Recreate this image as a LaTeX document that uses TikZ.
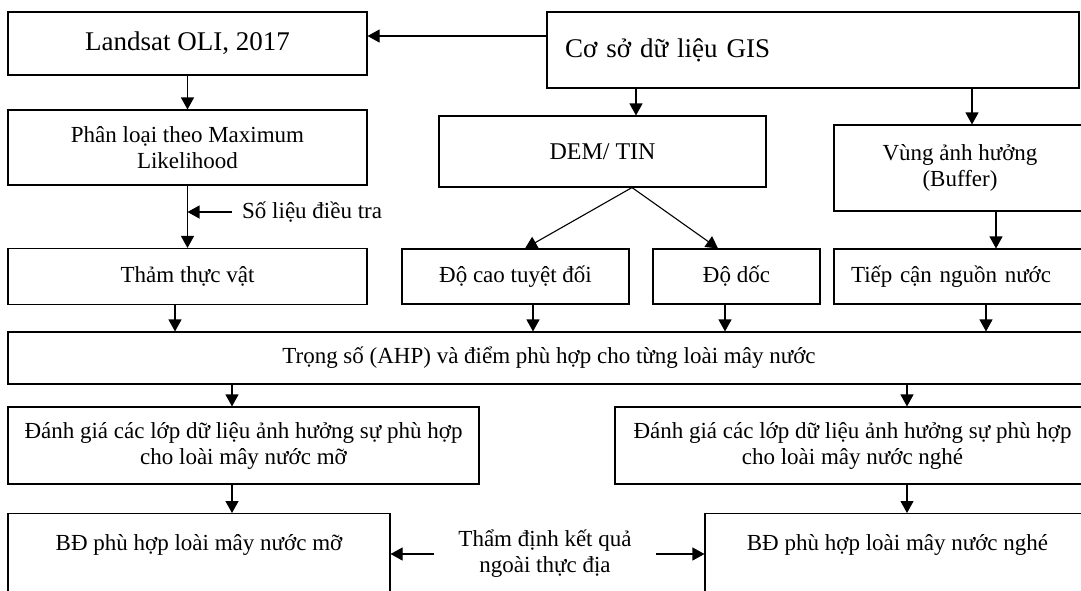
\documentclass[tikz,border=0pt]{standalone}
\usepackage{fontspec}
\setmainfont{Liberation Serif}
\usetikzlibrary{arrows.meta}

\providecommand{\flowLineWidth}{1.1pt}
\newcommand{\flowfont}{\fontsize{23}{26}\selectfont}
\newcommand{\flowbigfont}{\fontsize{27}{30}\selectfont}
\tikzset{
  flowbox/.style={draw, line width=\flowLineWidth, inner sep=0pt, align=center, font=\flowfont},
  flowarrow/.style={line width=\flowLineWidth, -{Triangle[length=12pt,width=13pt]}},
}

\begin{document}
\begin{tikzpicture}[x=1pt, y=-1pt]
% Page frame, boxes on the right run past the edge
\useasboundingbox (0,0) rectangle (1081,590);
\clip (0,0) rectangle (1081,590);
% Top row
\node[flowbox, minimum width=359pt, minimum height=63pt, font=\flowbigfont] (landsat) at (187.5,43.5) {Landsat OLI, 2017};
\node[flowbox, minimum height=76pt, text width=496pt, inner xsep=18pt, align=left, font=\flowbigfont] (gis) at (813,50) {Cơ sở dữ liệu GIS};
% Second row
\node[flowbox, minimum width=359pt, minimum height=75pt] (phanloai) at (187.5,147.5) {Phân loại theo Maximum\\Likelihood};
\node[flowbox, minimum width=327pt, minimum height=71pt, font=\fontsize{24}{27}\selectfont] (dem) at (602.5,151.5) {DEM/ TIN};
\node[flowbox, minimum width=252pt, minimum height=86pt] (vung) at (960,168) {Vùng ảnh hưởng\\(Buffer)};
\node[font=\flowfont, anchor=west, inner xsep=10pt] (solieu) at (232,212) {Số liệu điều tra};
% Third row
\node[flowbox, minimum width=359pt, minimum height=56pt] (tham) at (187.5,276.5) {Thảm thực vật};
\node[flowbox, minimum width=227pt, minimum height=55pt] (docao) at (515.5,276.5) {Độ cao tuyệt đối};
\node[flowbox, minimum width=167pt, minimum height=55pt] (doc) at (736.5,276.5) {Độ dốc};
\node[flowbox, minimum height=55pt, text width=222pt, inner xsep=17pt, align=left] (tiep) at (962,276.5) {Tiếp cận nguồn nước};
% Weights
\node[flowbox, minimum width=1082pt, minimum height=52pt] (trong) at (549,358) {Trọng số (AHP) và điểm phù hợp cho từng loài mây nước};
% Evaluation
\node[flowbox, minimum width=471pt, minimum height=77pt] (dgmo) at (243.5,445.5) {Đánh giá các lớp dữ liệu ảnh hưởng sự phù hợp\\cho loài mây nước mỡ};
\node[flowbox, minimum width=475pt, minimum height=77pt] (dgnghe) at (852.5,445.5) {Đánh giá các lớp dữ liệu ảnh hưởng sự phù hợp\\cho loài mây nước nghé};
% Maps
\node[flowbox, anchor=north, minimum width=382pt, inner ysep=21pt, text depth=90pt] (bdmo) at (199,513) {BĐ phù hợp loài mây nước mỡ};
\node[flowbox, anchor=north, minimum width=385pt, inner ysep=21pt, text depth=90pt] (bdnghe) at (897.5,513) {BĐ phù hợp loài mây nước nghé};
\node[font=\flowfont, align=center, inner xsep=24pt, inner ysep=0pt] (thamdinh) at (545,554) {Thẩm định kết quả\\ngoài thực địa};
% Arrows
\draw[flowarrow] (gis.west |- 0,36) -- (landsat.east |- 0,36);
\draw[flowarrow] (landsat) -- (phanloai);
\draw[flowarrow] (phanloai) -- (tham);
\draw[flowarrow] (solieu.west) -- (solieu.west -| phanloai.south);
\draw[flowarrow] (gis.south -| 636,0) -- (dem.north -| 636,0);
\draw[flowarrow] (gis.south -| 972,0) -- (vung.north -| 972,0);
\draw[flowarrow] (vung.south -| 996,0) -- (tiep.north -| 996,0);
\draw[flowarrow] (dem.south -| 632,0) -- (docao.north -| 525,0);
\draw[flowarrow] (dem.south -| 632,0) -- (doc.north -| 718,0);
\draw[flowarrow] (tham.south -| 175,0) -- (trong.north -| 175,0);
\draw[flowarrow] (docao.south -| 533,0) -- (trong.north -| 533,0);
\draw[flowarrow] (doc.south -| 725,0) -- (trong.north -| 725,0);
\draw[flowarrow] (tiep.south -| 986,0) -- (trong.north -| 986,0);
\draw[flowarrow] (trong.south -| 232,0) -- (dgmo.north -| 232,0);
\draw[flowarrow] (trong.south -| 907,0) -- (dgnghe.north -| 907,0);
\draw[flowarrow] (dgmo.south -| 232,0) -- (bdmo.north -| 232,0);
\draw[flowarrow] (dgnghe.south -| 907,0) -- (bdnghe.north -| 907,0);
\draw[flowarrow] (thamdinh.west) -- (thamdinh.west -| bdmo.east);
\draw[flowarrow] (thamdinh.east) -- (thamdinh.east -| bdnghe.west);
\end{tikzpicture}
\end{document}
